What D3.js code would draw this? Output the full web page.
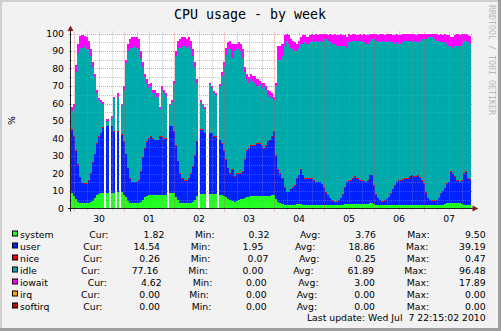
<!DOCTYPE html>
<html><head><meta charset="utf-8">
<script src="https://cdn.jsdelivr.net/npm/d3@7"></script>
<style>
html,body{margin:0;padding:0;background:#f2f2f2;}
svg{display:block;}
text{font-family:"DejaVu Sans",sans-serif;fill:#000;}
</style></head><body>
<svg id="chart" width="501" height="331"></svg>
<script>
// ---------------- data ----------------
const seriesNames  = ["system","user","nice","idle","iowait","irq","softirq"];
const seriesColors = ["#22ff22","#0022ff","#ff0000","#00aaaa","#ff00ff","#ffa500","#cc0000"];
const titleText = "CPU usage - by week";
const yAxisLabel = "%";
const watermark = "RRDTOOL / TOBI OETIKER";
const lastUpdate = "Last update: Wed Jul  7 22:15:02 2010";
const startTime = Date.UTC(2010, 5, 29, 22, 30);   // first hourly sample
const endTime   = Date.UTC(2010, 6, 7, 22, 30);
const stepMs = 3600 * 1000;
const yTicks = [0,10,20,30,40,50,60,70,80,90,100];

const system = [8.6,7,5.5,4,3.3,2.9,2.9,2.9,3,3.5,
4.5,6,7.5,8.5,9,9,null,9,null,9,
9,null,9.5,null,9.5,8,6.5,4.5,3.2,2.9,
2.9,2.9,2.9,3.5,5,6.5,7,7.5,7.6,7.6,
7.6,7.6,7.6,7.6,7.6,7.6,null,8.6,8.6,8.6,
6.7,4.8,3.2,2.9,2.9,2.9,2.9,2.9,3.5,4.8,
7,null,8.2,8.2,8.2,null,8.2,8.2,8.2,8.2,
null,8,7.5,7,6.5,5.5,5,4.5,4,4.5,
5,5.5,5.7,6,6.5,6.7,7,7.2,7.2,7.2,
7.2,7.2,7.2,7.2,7.2,7.4,7.6,7.6,5.5,3.8,
3,2.5,2,1.9,1.9,1.9,2,2.2,2.5,2.5,
2.5,2.2,2,2,2,2,2,2,2,2,
2,2,2,2,2,1.9,1.9,1.9,2,2,
2.2,2.5,2.5,2.5,2.5,2.5,2.5,2.5,2.5,2.5,
2.5,2.5,2.7,3,3,2.5,2,1.9,1.9,1.9,
1.9,1.9,1.9,1.9,1.9,1.9,1.9,1.9,1.9,1.9,
1.9,1.9,2,2,2,2,2,2,2,2,
1.9,1.9,1.9,1.9,1.9,1.9,2,2,2.2,2.5,
2.9,2.9,2.9,2.9,2.9,2.9,2.9,2.5,2,2,
1.9,1.82];

const user = [36.4,34,27.5,21,14.7,11.6,11.1,11.1,13,16.5,
21.5,25,29.5,32.5,34,37,null,38,null,38,
35,null,34.5,null,32.5,30,24.5,18.5,13.8,12.1,
12.1,12.1,13.1,17.5,24,27.5,31,32.5,33.4,32.4,
31.4,31.4,33.4,33.4,32.4,32.4,null,38.4,38.4,35.4,
29.3,22.2,16.8,14.1,13.1,13.1,14.1,17.1,20.5,25.2,
31,null,36.8,36.8,34.8,null,34.8,34.8,32.8,32.8,
null,31,29.5,26,21.5,17.5,15,17.5,14,15.5,
15,14.5,15.3,22,26.5,27.3,29,28.8,28.8,29.8,
29.8,28.8,26.8,28.8,30.8,31.6,33.4,36.4,24.5,18.2,
17,14.5,10,7.6,7.6,9.1,10,10.8,14.5,16.5,
19.5,16.8,15,15,15,15,14,13,13,13,
12,10,7,5.5,4,2.6,1.9,2.1,3,4,
5.8,9.5,12.5,13.5,13.5,14.5,15.5,14.5,13.5,13.5,
13,12.5,13.3,16,16,10.5,6,4.1,3.1,2.1,
2.6,3.6,4.6,6.6,9.1,11.1,13.1,14.1,14.1,14.6,
15.1,15.1,16,17,16,16,16.5,15.5,14,12,
7.1,4.1,3.1,2.6,2.6,3.1,4,6.5,7.8,9,
11.1,12.1,18.1,17.1,15.1,13.1,12.1,13.5,18,19,
15.1,14.54];

const nice = [0.3,0.3,0.3,0.2,0.2,0.2,0.4,0.3,0.3,0.3,
0.3,0.3,0.3,0.4,0.3,0.3,null,0.3,null,0.3,
0.4,null,0.3,null,0.3,0.3,0.3,0.3,0.3,0.3,
0.3,0.3,0.3,0.3,0.3,0.3,0.3,0.3,0.4,0.3,
0.3,0.3,0.4,0.3,0.3,0.3,null,0.3,0.4,0.3,
0.3,0.3,0.3,0.3,0.4,0.3,0.3,0.3,0.3,0.3,
0.3,null,0.4,0.3,0.3,null,0.3,0.3,0.4,0.3,
null,0.3,0.3,0.3,0.3,0.3,0.3,0.3,0.3,0.3,
0.3,0.3,0.4,0.3,0.3,0.3,0.4,0.3,0.3,0.3,
0.4,0.3,0.3,0.3,0.4,0.3,0.4,0.3,0.3,0.3,
0.3,0.3,0.3,0.2,0.2,0.2,0.2,0.3,0.3,0.3,
0.4,0.3,0.3,0.3,0.3,0.3,0.3,0.2,0.3,0.3,
0.2,0.2,0.2,0.2,0.1,0.1,0.1,0.1,0.1,0.2,
0.2,0.3,0.3,0.3,0.3,0.4,0.4,0.3,0.3,0.3,
0.3,0.3,0.3,0.4,0.4,0.3,0.2,0.2,0.1,0.1,
0.1,0.2,0.2,0.2,0.3,0.3,0.3,0.3,0.3,0.3,
0.3,0.3,0.4,0.4,0.3,0.3,0.4,0.3,0.3,0.3,
0.2,0.2,0.1,0.1,0.1,0.1,0.2,0.2,0.2,0.3,
0.3,0.3,0.4,0.4,0.3,0.3,0.3,0.3,0.4,0.4,
0.3,0.26];

const idle = [10.7,16.7,44.7,63.8,73.8,77.3,78.6,76.7,74.7,66.7,
54.7,43.7,28.7,20.6,17.7,13.7,null,2.7,null,4.7,
18.6,null,19.7,null,16.7,29.7,51.7,66.7,74.7,76.7,
77.7,76.7,74.7,64.7,51.7,40.7,33.7,28.7,28.6,25.7,
26.7,24.7,15.6,26.7,25.7,23.7,null,11.7,13.6,26.7,
50.7,64.7,71.7,75.7,76.6,75.7,75.7,70.7,62.7,50.7,
33.7,null,15.6,13.7,13.7,null,27.7,25.7,24.6,23.7,
null,30.7,38.7,47.7,59.7,67.7,70.7,63.7,71.7,70.7,
70.7,69.7,64.6,49.7,40.7,37.7,37.6,36.7,35.7,32.7,
33.6,32.7,35.7,31.7,26.6,24.7,21.6,17.7,39.7,62.7,
64.7,69.7,80.7,86.3,84.3,80.8,78.8,76.7,72.7,72.7,
71.6,74.7,77.7,76.7,77.7,78.7,78.7,80.8,79.7,80.7,
80.8,84.8,87.8,88.3,88.9,89.4,90.1,88.9,87.9,86.8,
84.8,80.7,76.7,78.7,78.7,78.6,77.6,78.7,79.7,78.7,
79.2,78.7,77.7,76.6,77.6,83.7,87.8,88.8,89.9,91.9,
90.4,89.3,89.3,86.3,83.7,80.7,79.7,77.7,77.7,78.2,
78.7,78.7,77.6,75.6,77.7,76.7,76.1,78.2,80.7,82.7,
87.8,91.8,92.9,93.4,92.4,90.9,89.8,86.3,84.8,83.2,
79.7,77.7,71.6,71.6,74.7,76.7,77.7,77.7,75.6,74.6,
77.7,77.16];

const iowait = [2,2,4,5,6.5,7,5.5,7,5,4,
3,2,2,1,1,1,null,1,null,1,
1,null,2,null,1,2,2,4,5,6,
5,6,6,4,3,2,2,2,2,2,
2,2,1,2,2,2,null,1,1,2,
3,4,5,5,5,5,5,5,4,3,
2,null,1,1,1,null,1,1,1,1,
null,1,2,3,4,4,5,8,4,3,
4,4,5,3,3,3,3,3,4,4,
2,3,2,2,3,3,3,2,2,8,
8,7,6,4,5,5,5,5,4,4,
4,5,4,4,4,4,4,4,4,4,
5,3,3,3,5,5,6,6,6,7,
6,6,6,5,4,4,4,3,4,4,
5,5,5,4,3,3,4,4,5,4,
4,5,4,5,4,5,5,5,5,5,
4,4,4,5,4,4,5,4,3,3,
3,2,2,2,3,4,3,5,4,5,
5,6,5,6,6,7,6,6,4,4,
4,4.62];

const legendCur = [1.82,14.54,0.26,77.16,4.62,0.00,0.00];
const legendMin = [0.32,1.95,0.07,0.00,0.00,0.00,0.00];
const legendAvg = [3.76,18.86,0.25,61.89,3.00,0.00,0.00];
const legendMax = [9.50,39.19,0.47,96.48,17.89,0.00,0.00];

// ---------------- layout ----------------
const W = 501, H = 331;
const X0 = 71, X1 = 471, Y0 = 208.5, Y1 = 33.5;
const fs = 9.3;
// per-row legend positions (justified legend lines)
const curX  = [89.3,83.3,83.3,81,87.7,81,83.3];
const curV  = [164.3,160,160,158.3,161.7,160,160];
const minX  = [195,190.7,190.7,188.3,192.7,189.3,191.7];
const minV  = [269.3,263.3,268.3,263.3,266.7,266.7,266.7];
const avgX  = [300,295,299,293.3,298.3,296.7,296.7];
const avgV  = [376,375,376,374,375,375,375];
const maxX  = [407.3,406,406.7,404.3,406.7,406.7,406.7];
const maxV  = 485.7;

const svg = d3.select("#chart");

// background and bevel
svg.append("rect").attr("width",W).attr("height",H).attr("fill","#f2f2f2");
svg.append("rect").attr("x",0).attr("y",0).attr("width",W).attr("height",2).attr("fill","#cfcfcf");
svg.append("rect").attr("x",0).attr("y",0).attr("width",2).attr("height",H).attr("fill","#cfcfcf");
svg.append("rect").attr("x",0).attr("y",H-3).attr("width",W).attr("height",3).attr("fill","#9e9e9e");
svg.append("rect").attr("x",W-3).attr("y",0).attr("width",3).attr("height",H).attr("fill","#9e9e9e");

// canvas
svg.append("rect").attr("x",X0).attr("y",33).attr("width",X1-X0).attr("height",176).attr("fill","#fff");

const x = d3.scaleUtc().domain([startTime, endTime]).range([X0, X1]);
const y = d3.scaleLinear().domain([0,100]).range([Y0, Y1]);

// rows
const keys = ["system","user","nice","idle","iowait"];
const src = {system, user, nice, idle, iowait};
const rows = system.map((_, i) => {
  const r = {t: startTime + i*stepMs, ok: system[i] !== null};
  keys.forEach(k => r[k] = src[k][i] === null ? 0 : src[k][i]);
  return r;
});
const stack = d3.stack().keys(keys);
const layers = stack(rows);

const gData = svg.append("g").attr("shape-rendering","crispEdges");
layers.forEach((layer, li) => {
  gData.append("g").attr("fill", seriesColors[li])
    .selectAll("rect").data(layer.filter(d => d.data.ok)).join("rect")
    .attr("x", d => Math.round(x(d.data.t)))
    .attr("width", d => Math.round(x(d.data.t + stepMs)) - Math.round(x(d.data.t)))
    .attr("y", d => y(d[1]))
    .attr("height", d => Math.max(0, y(d[0]) - y(d[1])));
});

// grid (drawn over the data, like rrdtool)
const gGrid = svg.append("g").attr("stroke-dasharray","1,1").attr("stroke-width",1);
const minorY = d3.range(5, 100, 10);
gGrid.selectAll("line.hmin").data(minorY).join("line")
  .attr("x1", X0-2).attr("x2", X1+2)
  .attr("y1", d => Math.round(y(d))+0.5).attr("y2", d => Math.round(y(d))+0.5)
  .attr("stroke","rgba(143,143,143,0.55)");
const hours6 = d3.utcHour.every(6).range(new Date(startTime), new Date(endTime));
gGrid.selectAll("line.vmin").data(hours6.filter(d => d.getUTCHours() !== 0)).join("line")
  .attr("x1", d => Math.round(x(d))+0.5).attr("x2", d => Math.round(x(d))+0.5)
  .attr("y1", Y0+2).attr("y2", Y1-2)
  .attr("stroke","rgba(143,143,143,0.55)");
gGrid.selectAll("line.hmaj").data(yTicks.filter(v => v > 0)).join("line")
  .attr("x1", X0-2).attr("x2", X1+2)
  .attr("y1", d => Math.round(y(d))+0.5).attr("y2", d => Math.round(y(d))+0.5)
  .attr("stroke","rgba(222,79,79,0.6)");
gGrid.selectAll("line.vmaj").data(hours6.filter(d => d.getUTCHours() === 0)).join("line")
  .attr("x1", d => Math.round(x(d))+0.5).attr("x2", d => Math.round(x(d))+0.5)
  .attr("y1", Y0+3).attr("y2", Y1-2)
  .attr("stroke","rgba(222,79,79,0.6)");

// axes
svg.append("line").attr("x1",X0-3).attr("x2",X1+2).attr("y1",Y0).attr("y2",Y0)
  .attr("stroke","#1f1f1f").attr("stroke-width",1);
svg.append("line").attr("x1",X0-0.5).attr("x2",X0-0.5).attr("y1",Y0+3).attr("y2",Y1-3)
  .attr("stroke","#1f1f1f").attr("stroke-width",1);
svg.append("path").attr("d",`M${X1+1.5},${Y0-3}L${X1+7.5},${Y0}L${X1+1.5},${Y0+3}Z`).attr("fill","#801f1f");
svg.append("path").attr("d",`M${X0-3.5},${Y1-2.5}L${X0-0.5},${Y1-8}L${X0+2.5},${Y1-2.5}Z`).attr("fill","#801f1f");

// y labels
svg.append("g").selectAll("text").data(yTicks).join("text")
  .attr("x", 64).attr("y", d => y(d) + 3.4)
  .attr("text-anchor","end").attr("font-size", fs+"px")
  .text(d => d3.format("d")(d));

// x labels at noon
const days = d3.utcDay.range(new Date(startTime), new Date(endTime));
svg.append("g").selectAll("text").data(days).join("text")
  .attr("x", d => x(d3.utcHour.offset(d, 12))).attr("y", 221.5)
  .attr("text-anchor","middle").attr("font-size", fs+"px")
  .text(d => d3.utcFormat("%d")(d3.utcHour.offset(d, 12)));

// title
svg.append("text").attr("x",250).attr("y",18.5).attr("text-anchor","middle")
  .style("font-family","'DejaVu Sans Mono',monospace").attr("font-size","13.3px").text(titleText);

// watermark
svg.append("text").attr("transform","translate(489,5) rotate(90)")
  .style("font-family","'DejaVu Sans Mono',monospace").attr("font-size","8.3px")
  .style("fill","#b8b8b8").text(watermark);

// y axis label
svg.append("text").attr("transform","translate(14.5,120.5) rotate(-90)")
  .attr("text-anchor","middle").attr("font-size", fs+"px").text(yAxisLabel);

// legend
const fmt = d3.format(".2f");
const lg = svg.append("g").attr("font-size", fs+"px");
seriesNames.forEach((name, i) => {
  const by = 237.5 + i*12;
  lg.append("rect").attr("x",12.5).attr("y",by-6.5).attr("width",5).attr("height",5)
    .attr("fill",seriesColors[i]).attr("stroke","#000").attr("stroke-width",1);
  lg.append("text").attr("x",20).attr("y",by).text(name);
  lg.append("text").attr("x",curX[i]).attr("y",by).text("Cur:");
  lg.append("text").attr("x",curV[i]).attr("y",by).attr("text-anchor","end").text(fmt(legendCur[i]));
  lg.append("text").attr("x",minX[i]).attr("y",by).text("Min:");
  lg.append("text").attr("x",minV[i]).attr("y",by).attr("text-anchor","end").text(fmt(legendMin[i]));
  lg.append("text").attr("x",avgX[i]).attr("y",by).text("Avg:");
  lg.append("text").attr("x",avgV[i]).attr("y",by).attr("text-anchor","end").text(fmt(legendAvg[i]));
  lg.append("text").attr("x",maxX[i]).attr("y",by).text("Max:");
  lg.append("text").attr("x",maxV).attr("y",by).attr("text-anchor","end").text(fmt(legendMax[i]));
});
lg.append("text").attr("x",maxV).attr("y",321.3).attr("text-anchor","end")
  .style("white-space","pre").attr("xml:space","preserve").text(lastUpdate);
</script>
</body></html>
